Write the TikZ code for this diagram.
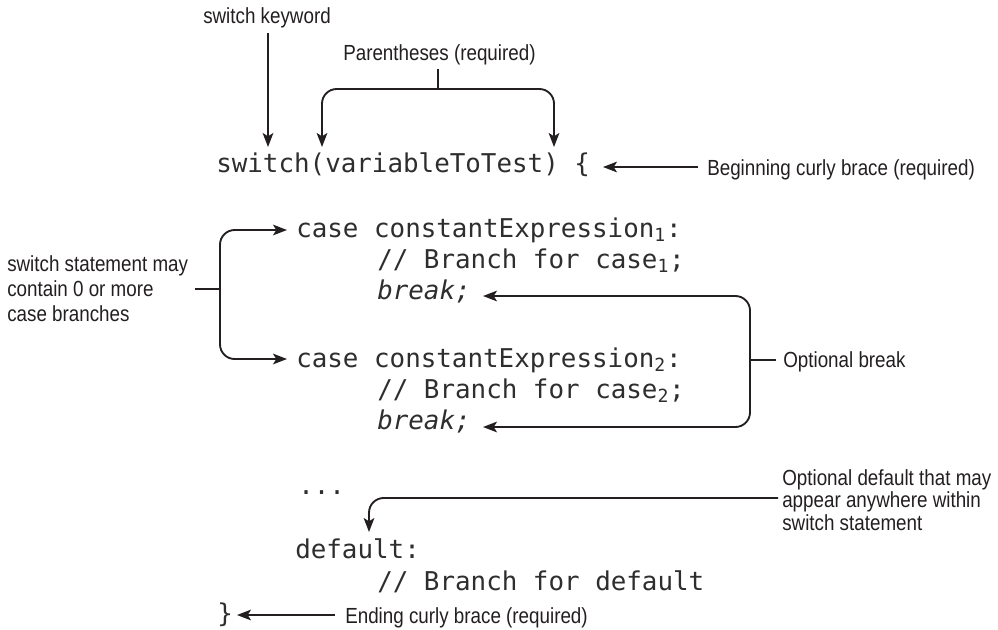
\documentclass[tikz,border=0pt]{standalone}
\usepackage{fontspec}
\setmainfont{Liberation Sans}[FakeStretch=0.86]
\newfontfamily\codefont{DejaVu Sans Mono}
\usetikzlibrary{arrows.meta}
\definecolor{ink}{HTML}{231F20}
\definecolor{codeink}{HTML}{2E2E2E}
\begin{document}
\begin{tikzpicture}[x=0.75pt,y=-0.75pt,
  lbl/.style={inner sep=0pt, anchor=base west, font=\fontsize{16.4}{19}\selectfont, text=ink},
  code/.style={inner sep=0pt, anchor=base west, font=\codefont\fontsize{19.4}{23}\selectfont, text=codeink},
  conn/.style={draw=ink, line width=1.4pt, rounded corners=11pt},
  arr/.style={conn, -{Stealth[length=10.5pt,width=8pt,inset=2.5pt]}}]
\useasboundingbox (0,0) rectangle (998,629);

% code lines
\node[code] (l1)  at (216,172) {switch(variableToTest) \{};
\node[code] (l2)  at (296,237) {case constantExpression\textsubscript{1}:};
\node[code] (l3)  at (377,268) {// Branch for case\textsubscript{1};};
\node[code] (l4)  at (377,299) {\itshape break;};
\node[code] (l5)  at (296,367) {case constantExpression\textsubscript{2}:};
\node[code] (l6)  at (377,398) {// Branch for case\textsubscript{2};};
\node[code] (l7)  at (377,429) {\itshape break;};
\node[code] (l8)  at (298,494) {...};
\node[code] (l9)  at (295,558) {default:};
\node[code] (l10) at (377,590) {// Branch for default};
\node[code] (l11) at (217,622) {\}};

% labels
\node[lbl] (kw)  at (203,23)  {switch keyword};
\node[lbl] (par) at (343,60)  {Parentheses (required)};
\node[lbl] (beg) at (707,175) {Beginning curly brace (required)};
\node[inner sep=0pt, anchor=west, align=left, text=ink,
      font=\fontsize{16.4}{18.75}\selectfont] (cb) at (7,289)
      {switch statement may\\contain 0 or more\\case branches};
\node[lbl] (ob)  at (783,367) {Optional break};
\node[inner sep=0pt, anchor=west, align=left, text=ink,
      font=\fontsize{16.4}{16.9}\selectfont] (od) at (782,500)
      {Optional default that may\\appear anywhere within\\switch statement};
\node[lbl] (en)  at (345,623) {Ending curly brace (required)};

% connector points
\coordinate (kwTip)  at (268,147);
\coordinate (parJ)   at (438,89);
\coordinate (parL)   at (322,147);
\coordinate (parR)   at (554,147);
\coordinate (begTip) at (603,167);
\coordinate (cbJ)    at (220,289);
\coordinate (c1Tip)  at (287,230);
\coordinate (c2Tip)  at (287,359);
\coordinate (obJ)    at (750,360);
\coordinate (b1Tip)  at (483,296);
\coordinate (b2Tip)  at (483,427);
\coordinate (odJ)    at (369,498);
\coordinate (odTip)  at (369,532);
\coordinate (enTip)  at (237,615);

% connectors
\draw[arr, shorten <=4pt] (kw.south -| kwTip) -- (kwTip);
\draw[conn, shorten <=3pt] (par.south -| parJ) -- (parJ);
\draw[arr] (parJ) -| (parL);
\draw[arr] (parJ) -| (parR);
\draw[arr, shorten <=6.75pt] (begTip -| beg.west) -- (begTip);
\draw[conn, shorten <=5pt] (cbJ -| cb.east) -- (cbJ);
\draw[arr] (cbJ) |- (c1Tip);
\draw[arr] (cbJ) |- (c2Tip);
\draw[conn, shorten <=5pt] (obJ -| ob.west) -- (obJ);
\draw[arr] (obJ) |- (b1Tip);
\draw[arr] (obJ) |- (b2Tip);
\draw[arr, shorten <=3pt] (odJ -| od.west) -- (odJ) -- (odTip);
\draw[arr, shorten <=7.5pt] (enTip -| en.west) -- (enTip);
\end{tikzpicture}
\end{document}
